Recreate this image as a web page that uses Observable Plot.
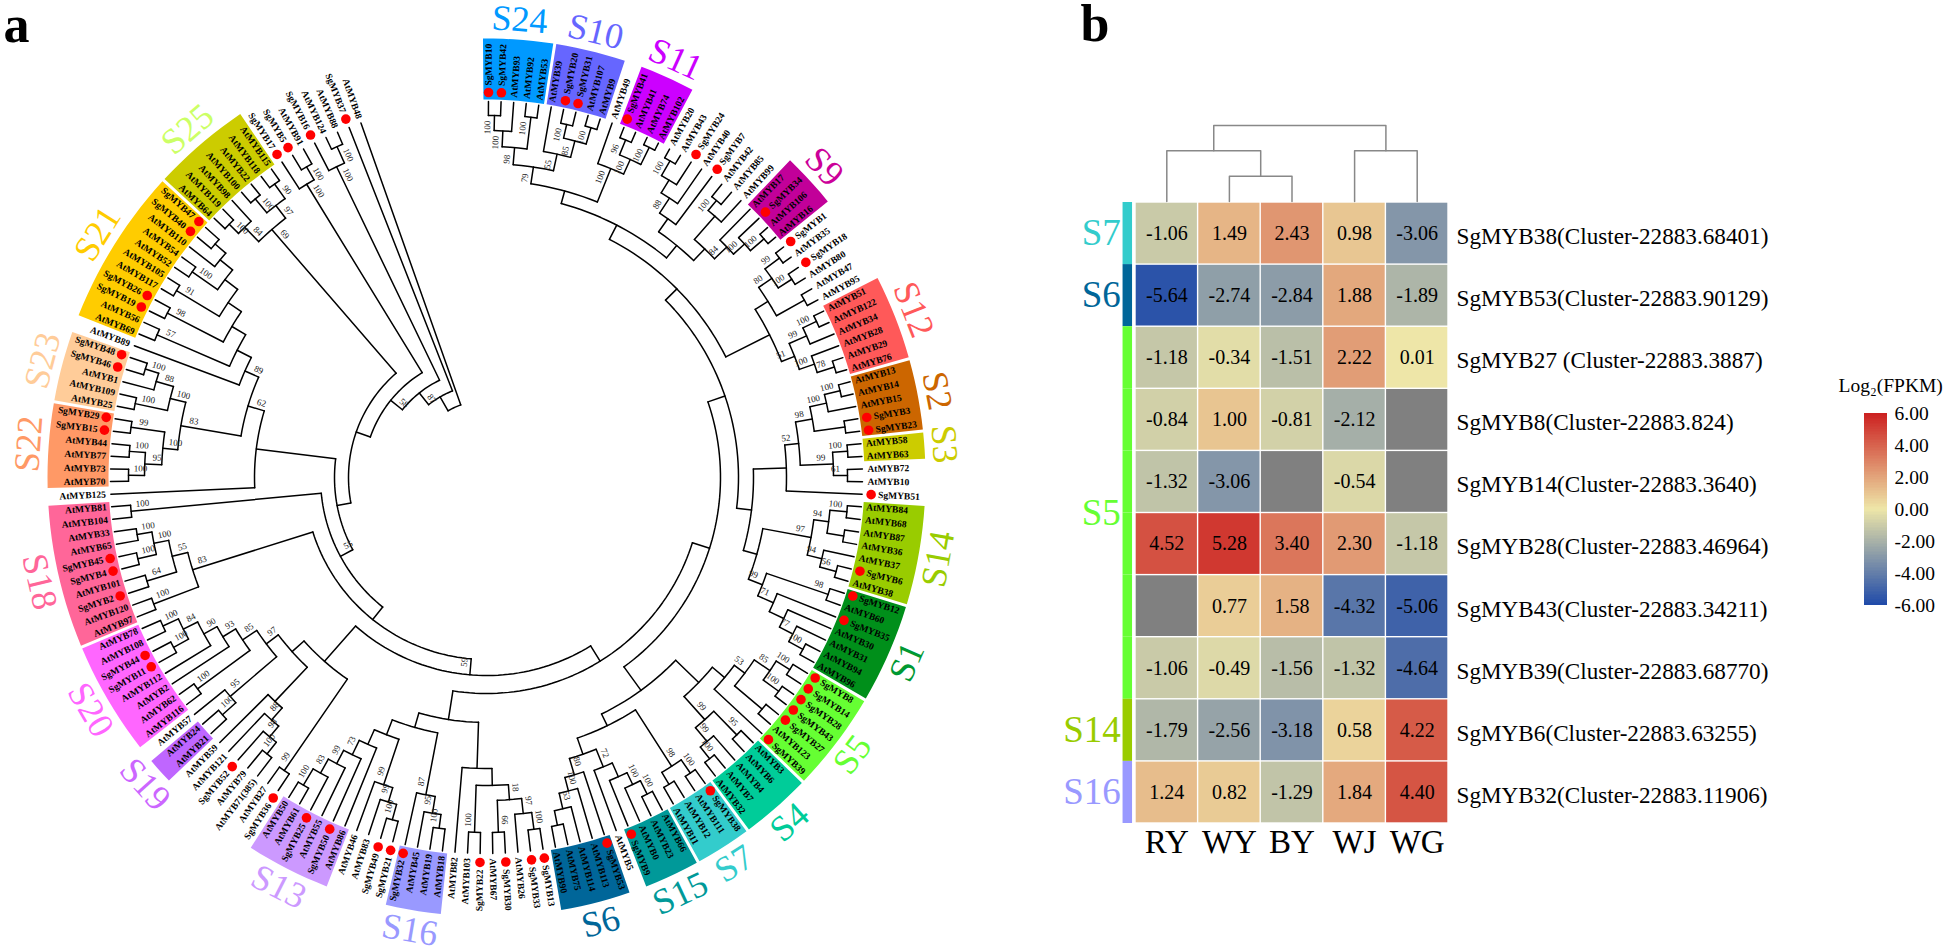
<!DOCTYPE html>
<html><head><meta charset="utf-8">
<script src="https://cdn.jsdelivr.net/npm/d3@7"></script>
<script src="https://cdn.jsdelivr.net/npm/@observablehq/plot@0.6"></script>
<style>
html,body{margin:0;padding:0;background:#fff;overflow:hidden}
#page{position:relative;width:1946px;height:947px}
#page svg{position:absolute;left:0;top:0;max-width:none}
</style></head><body><div id="page"></div>
<script>
// ---- tree: [node radius, bootstrap, ...children]; tips are names, in clockwise order
const cladeS24S10 = [314,79,[331,98,[347,100,[362,100,"SgMYB10","SgMYB42"],"AtMYB93"],[363,100,"AtMYB92","AtMYB53"]],[331,55,"AtMYB39",[348,85,[362,100,"SgMYB20","SgMYB31"],[365,100,"AtMYB107","AtMYB9"]]]];
const cladeS11 = [333,100,"AtMYB49",[349,100,[365,96,"SgMYB41","AtMYB41"],[368,100,"AtMYB74","AtMYB102"]]];
const cladeS9 = [300,null,[316,null,[334,88,[349,null,[366,100,"AtMYB20","AtMYB43"],"SgMYB24"],"AtMYB40"],"SgMYB7"],[316,null,[347,null,[360,100,"AtMYB42","AtMYB85"],"AtMYB99"],[333,84,"AtMYB17",[348,100,"SgMYB34",[366,100,"AtMYB106","AtMYB16"]]]]];
const cladeS12 = [317,null,[332,null,[348,80,[366,99,"SgMYB1","AtMYB35"],[364,100,"SgMYB18","AtMYB80"]],[364,null,"AtMYB47","AtMYB95"]],[331,51,[350,99,[365,100,"AtMYB51","AtMYB122"],"AtMYB34"],[347,100,"AtMYB28",[365,78,"AtMYB29","AtMYB76"]]]];
const cladeS2S3 = [300,null,[314,52,[331,98,[348,100,[364,100,"AtMYB13","AtMYB14"],"AtMYB15"],[362,null,"SgMYB3","SgMYB23"]],[347,99,[362,100,"AtMYB58","AtMYB63"],[361,61,"AtMYB72","AtMYB10"]]],"SgMYB51"];
const cladeS14S1 = [281,null,[330,97,[345,94,[362,100,"AtMYB84","AtMYB68"],[362,null,"AtMYB87","AtMYB36"]],[345,94,"AtMYB37",[362,56,"SgMYB6","AtMYB38"]]],[296,99,[361,98,"SgMYB12","AtMYB60"],[313,71,"SgMYB35",[329,null,"AtMYB30",[344,77,"AtMYB31",[360,100,"AtMYB94","AtMYB96"]]]]]];
const cladeS5S4 = [295,null,[311,null,[324,53,[343,85,[359,100,"SgMYB8","SgMYB14"],[362,100,"SgMYB28","SgMYB43"]],[360,null,"SgMYB27","AtMYB123"]],"SgMYB39"],[326,99,[359,95,"AtMYB3","AtMYB6"],[344,99,"AtMYB4",[359,100,"AtMYB7","AtMYB32"]]]];
const cladeS7S6 = [276,null,[343,98,[359,100,"SgMYB38","AtMYB111"],[357,null,"AtMYB12","AtMYB11"]],[293,null,[312,72,[327,null,[340,100,[355,100,"AtMYB66","AtMYB23"],"AtMYB0"],"SgMYB9"],"AtMYB5"],[310,80,"SgMYB53",[324,100,"AtMYB113",[340,53,"AtMYB114",[355,null,"AtMYB75","AtMYB90"]]]]]];
const cladeS16 = [260,null,[323,87,[340,95,[354,100,"AtMYB18","AtMYB19"],"AtMYB45"],"SgMYB32"],[276,null,[324,99,[339,99,[355,100,"SgMYB21","SgMYB49"],"AtMYB83"],"AtMYB46"],[292,null,"AtMYB86",[308,73,"SgMYB50",[323,99,"AtMYB55",[339,83,"SgMYB25",[358,100,"AtMYB61","AtMYB50"]]]]]]];
const cladeLow = [291,null,[308,null,[323,18,[338,97,[355,100,"SgMYB13","SgMYB33"],"AtMYB26"],[355,66,"SgMYB30","AtMYB67"]],[355,100,"SgMYB22","AtMYB103"]],"AtMYB82"];
const cladeS19S20 = [276,97,[337,95,[355,100,"AtMYB21","AtMYB24"],"AtMYB57"],[293,85,[358,100,"AtMYB116","AtMYB62"],[308,93,"AtMYB2",[323,90,"AtMYB112",[339,84,[356,100,"SgMYB11","SgMYB44"],[356,100,"AtMYB108","AtMYB78"]]]]]];
const cladeS13b = [245,null,[356,99,"SgMYB36","AtMYB27"],[261,null,[308,null,[324,88,[338,98,[353,100,"AtMYB71(385)","AtMYB79"],"SgMYB52"],"AtMYB121"],"AtMYB59"],cladeS19S20]];
const cladeS18 = [308,83,[356,100,"AtMYB97","AtMYB120"],[324,55,[355,64,"SgMYB2","AtMYB101"],[339,100,[358,100,"SgMYB4","SgMYB45"],[354,100,"AtMYB65","AtMYB33"]]]];
const cladeS22S23 = [310,83,[325,100,[342,95,[358,100,"AtMYB70","AtMYB73"],[358,100,"AtMYB77","AtMYB44"]],[359,99,"SgMYB15","SgMYB29"]],[326,100,[359,100,"AtMYB25","AtMYB109"],[344,88,"AtMYB1",[358,100,"SgMYB46","SgMYB48"]]]];
const cladeS21 = [280,null,[359,57,"AtMYB69","AtMYB56"],[296,null,[359,98,"SgMYB19","SgMYB26"],[312,null,[362,91,"AtMYB117","AtMYB105"],[328,null,[359,100,"AtMYB52","AtMYB54"],[344,null,"AtMYB110",[358,null,"SgMYB40","SgMYB47"]]]]]];
const cladeS25 = [328,69,[348,84,[361,100,"AtMYB64","AtMYB119"],"AtMYB98"],[344,97,[362,100,"AtMYB100","AtMYB22"],[362,90,"AtMYB118","AtMYB115"]]];
const cladeEnd = [344,100,"SgMYB17",[359,100,"SgMYB5","AtMYB91"]];
const cladeEnd2 = [345,100,"SgMYB16",[363,100,"AtMYB124","AtMYB88"]];

const treeRoot =
 [77,null,[93,null,[108,87,[123,58,[138,null,[152,null,[166,55,[182,null,[198,59,[216,null,
   [234,null,[252,null,[268,null,[284,null,[297,null,cladeS24S10,cladeS11],cladeS9],cladeS12],[267,null,cladeS2S3,cladeS14S1]],[263,null,cladeS5S4,cladeS7S6]],
   [245,null,cladeLow,cladeS16]],cladeS13b],cladeS18],[357,100,"AtMYB104","AtMYB81"]],
   [232,null,"AtMYB125",[249,62,cladeS22S23,[264,89,"AtMYB89",cladeS21]]]],cladeS25],cladeEnd],cladeEnd2],"SgMYB37"],"AtMYB48"];

const groupNames  = ["S24","S10","S11","S9","S12","S2","S3","S14","S1","S5","S4","S7","S15","S6","S16","S13","S19","S20","S18","S22","S23","S21","S25"];
const groupFirst  = ["SgMYB10","AtMYB39","SgMYB41","AtMYB17","AtMYB51","AtMYB13","AtMYB58","AtMYB84","SgMYB12","SgMYB8","AtMYB3","SgMYB38","AtMYB66","SgMYB53","AtMYB18","AtMYB86","AtMYB21","AtMYB116","AtMYB97","AtMYB70","AtMYB25","AtMYB69","AtMYB64"];
const groupLast   = ["AtMYB53","AtMYB9","AtMYB102","AtMYB16","AtMYB76","SgMYB23","AtMYB63","AtMYB38","AtMYB96","SgMYB39","AtMYB32","AtMYB11","SgMYB9","AtMYB90","SgMYB32","AtMYB50","AtMYB24","AtMYB78","AtMYB81","SgMYB29","SgMYB48","SgMYB47","AtMYB115"];
const groupFill   = ["#0099ff","#6666ff","#cc00ff","#c20099","#ff5959","#cc6600","#cccc00","#99cc00","#008f1a","#66ff33","#00cc99","#33cccc","#009999","#006699","#9999ff","#cc99ff","#bf66ff","#ff66ff","#ff6699","#ff9966","#ffcc99","#ffcc00","#cccc00"];
const groupInk    = ["#0099ff","#6666ff","#cc00ff","#cc0099","#ff5959","#cc6600","#cccc00","#99cc00","#009933","#66ff33","#00cc99","#33cccc","#009999","#006699","#9999ff","#cc99ff","#cc66ff","#ff66ff","#ff6699","#ff9966","#ffcc99","#ffcc00","#ccff66"];

// ---- heat map
const samples = ["RY","WY","BY","WJ","WG"];
const genes = ["SgMYB38(Cluster-22883.68401)","SgMYB53(Cluster-22883.90129)","SgMYB27 (Cluster-22883.3887)","SgMYB8(Cluster-22883.824)","SgMYB14(Cluster-22883.3640)","SgMYB28(Cluster-22883.46964)","SgMYB43(Cluster-22883.34211)","SgMYB39(Cluster-22883.68770)","SgMYB6(Cluster-22883.63255)","SgMYB32(Cluster-22883.11906)"];
const expression = [
 [-1.06,1.49,2.43,0.98,-3.06],
 [-5.64,-2.74,-2.84,1.88,-1.89],
 [-1.18,-0.34,-1.51,2.22,0.01],
 [-0.84,1.00,-0.81,-2.12,null],
 [-1.32,-3.06,null,-0.54,null],
 [4.52,5.28,3.40,2.30,-1.18],
 [null,0.77,1.58,-4.32,-5.06],
 [-1.06,-0.49,-1.56,-1.32,-4.64],
 [-1.79,-2.56,-3.18,0.58,4.22],
 [1.24,0.82,-1.29,1.84,4.40]];
const rowClass = ["S7","S6","S5","S5","S5","S5","S5","S5","S14","S16"];
const classInk = {S7:"#33cccc",S6:"#006699",S5:"#66ff33",S14:"#99cc00",S16:"#9999ff"};
const dendrogram = [3,null,[2,null,"RY",[1,null,"WY","BY"]],[2,null,"WJ","WG"]];
const legendTicks = [-6,-4,-2,0,2,4,6];

const serif = "'Liberation Serif','Times New Roman',serif";
const clear = {background:"transparent",fontFamily:serif};
const colorScale = {type:"linear",domain:[-6,0,6],range:["#1f4aa9","#eee6a8","#cc2020"]};

// ---- layout of the circular tree
const a0 = 0.3, step = 1.922, tipR = 376, blockIn = 378, blockOut = 439, labelR = 459;
const rad = d => d*Math.PI/180;
const px = (r,a) => r*Math.sin(rad(a));
const py = (r,a) => -r*Math.cos(rad(a));
const tips = [], branchPts = [], bootLabels = [];
let branchId = 0;
function addArc(r,a1,a2){ const id=branchId++; const n=Math.max(1,Math.ceil((a2-a1)/1.5));
  for(let i=0;i<=n;i++){const a=a1+(a2-a1)*i/n; branchPts.push({id,x:px(r,a),y:py(r,a)});} }
function addStem(r1,r2,a){ const id=branchId++; branchPts.push({id,x:px(r1,a),y:py(r1,a)},{id,x:px(r2,a),y:py(r2,a)}); }
function walk(n,parentR){
  if(typeof n==="string"){ const a=a0+step*tips.length; tips.push({name:n,a}); addStem(parentR,tipR,a); return a; }
  const [r,boot,...kids]=n;
  const as=kids.map(k=>walk(k,r));
  const lo=as[0],hi=as[as.length-1],mid=(lo+hi)/2;
  addArc(r,lo,hi);
  if(parentR!=null) addStem(parentR,r,mid);
  if(boot!=null) bootLabels.push({boot,r,a:mid});
  return mid;
}
walk(treeRoot,null);
const tipAngle = Object.fromEntries(tips.map(t=>[t.name,t.a]));
const isSg = t => t.name.startsWith("Sg");

const blockPts = [], groupLabels = [];
groupNames.forEach((name,i)=>{
  const a1=tipAngle[groupFirst[i]]-step/2+0.2, a2=tipAngle[groupLast[i]]+step/2-0.2;
  const n=Math.ceil((a2-a1)/1.5), c=groupFill[i];
  for(let k=0;k<=n;k++){const a=a1+(a2-a1)*k/n; blockPts.push({name,c,x:px(blockIn,a),y:py(blockIn,a)});}
  for(let k=n;k>=0;k--){const a=a1+(a2-a1)*k/n; blockPts.push({name,c,x:px(blockOut,a),y:py(blockOut,a)});}
  const am=(a1+a2)/2;
  groupLabels.push({name,ink:groupInk[i],x:px(labelR,am),y:py(labelR,am),rot:am<90?am:am<270?am-180:am-360});
});

const rightTips = tips.filter(t=>t.a<180), leftTips = tips.filter(t=>t.a>=180);
const textR = t => isSg(t)?392:381;
// bootstrap text sits beside the stem, towards the centre
const bootX = b => { const side=b.a<180?-1:1; return px(b.r-12,b.a+side*(7/b.r)*180/Math.PI); };
const bootY = b => { const side=b.a<180?-1:1; return py(b.r-12,b.a+side*(7/b.r)*180/Math.PI); };

const treePlot = Plot.plot({
  width:1946,height:947,margin:0,style:clear,
  x:{domain:[-486,1460],range:[0,1946],axis:null},
  y:{domain:[-477,470],range:[0,947],axis:null},
  marks:[
    Plot.line(blockPts,{x:"x",y:"y",z:"name",fill:d=>d.c,stroke:"none"}),
    Plot.line(branchPts,{x:"x",y:"y",z:"id",stroke:"#000",strokeWidth:1.5,strokeLinecap:"round",strokeLinejoin:"round"}),
    Plot.text(rightTips,{x:t=>px(textR(t),t.a),y:t=>py(textR(t),t.a),text:"name",rotate:t=>t.a-90,textAnchor:"start",fontSize:9.5,fontWeight:"bold",fill:"#000"}),
    Plot.text(leftTips,{x:t=>px(textR(t),t.a),y:t=>py(textR(t),t.a),text:"name",rotate:t=>t.a-270,textAnchor:"end",fontSize:9.5,fontWeight:"bold",fill:"#000"}),
    Plot.dot(tips.filter(isSg),{x:t=>px(385,t.a),y:t=>py(385,t.a),r:4.8,fill:"#ff0000",stroke:"none"}),
    Plot.text(bootLabels,{x:bootX,y:bootY,text:"boot",rotate:b=>b.a<180?b.a-90:b.a-270,fontSize:9,fill:"#222"}),
    Plot.text(groupLabels,{x:"x",y:"y",text:"name",rotate:"rot",fontSize:36,fill:d=>d.ink}),
    Plot.text(["a"],{frameAnchor:"top-left",dx:3,dy:5,fontSize:52,fontWeight:"bold",fill:"#000",lineAnchor:"top"})
  ]
});

// ---- heat map plot
const cells = genes.flatMap((g,i)=>samples.map((s,j)=>({gene:g,sample:s,v:expression[i][j]})));
const rowsInfo = genes.map((g,i)=>({gene:g,cls:rowClass[i],ink:classInk[rowClass[i]]}));
const classRows = rowsInfo.filter((r,i)=>rowClass.indexOf(r.cls)===i && r.cls!=="S5");
const s5Row = rowsInfo[4];
const heatPlot = Plot.plot({
  width:1946,height:947,
  marginLeft:1135,marginRight:498,marginTop:202,marginBottom:124,style:clear,
  x:{domain:samples,padding:0,round:false,label:null},
  y:{domain:genes,padding:0,round:false,label:null},
  color:colorScale,
  marks:[
    Plot.cell(cells.filter(d=>d.v==null),{x:"sample",y:"gene",fill:"#808080",inset:0.7}),
    Plot.cell(cells.filter(d=>d.v!=null),{x:"sample",y:"gene",fill:"v",inset:0.7}),
    Plot.text(cells.filter(d=>d.v!=null),{x:"sample",y:"gene",text:d=>d.v.toFixed(2),fontSize:20,fill:"#000"}),
    Plot.tickX(rowsInfo,{x:()=>"RY",y:"gene",stroke:d=>d.ink,strokeWidth:9.5,dx:-39.5,strokeLinecap:"butt"}),
    Plot.text(classRows,{x:()=>"RY",y:"gene",text:"cls",fill:d=>d.ink,fontSize:37,textAnchor:"end",dx:-46}),
    Plot.text([s5Row],{x:()=>"RY",y:"gene",text:"cls",fill:d=>d.ink,fontSize:37,textAnchor:"end",dx:-46,dy:31}),
    Plot.axisX({anchor:"bottom",tickSize:0,tickPadding:6,fontSize:33,label:null,fill:"#000"}),
    Plot.axisY({anchor:"right",tickSize:0,tickPadding:8,fontSize:23.2,label:null,fill:"#000",dy:3}),
    Plot.text(["b"],{frameAnchor:"top-left",dx:-55,dy:-198,fontSize:52,fontWeight:"bold",fill:"#000",lineAnchor:"top"})
  ]
});

// ---- dendrogram over the columns
const dendroPts = []; let dId = 0;
function dwalk(n){
  if(typeof n==="string") return {x:samples.indexOf(n)+0.5,h:0};
  const [h,,a,b]=n; const A=dwalk(a),B=dwalk(b); const id=dId++;
  dendroPts.push({id,x:A.x,h:A.h},{id,x:A.x,h},{id,x:B.x,h},{id,x:B.x,h:B.h});
  return {x:(A.x+B.x)/2,h};
}
dwalk(dendrogram);
const dendroPlot = Plot.plot({
  width:1946,height:947,margin:0,style:clear,
  x:{domain:[0,5],range:[1135,1448],axis:null},
  y:{domain:[0,3],range:[201,125],axis:null},
  marks:[Plot.line(dendroPts,{x:"x",y:"h",z:"id",stroke:"#888",strokeWidth:1.5})]
});

// ---- colour legend
const ramp = d3.range(-6,6,0.1);
const legendPlot = Plot.plot({
  width:1946,height:947,margin:0,style:clear,
  x:{domain:[0,1],range:[1864,1887],axis:null},
  y:{domain:[-6,6],range:[605,413],axis:null},
  color:colorScale,
  marks:[
    Plot.rect(ramp,{x1:()=>0,x2:()=>1,y1:d=>d,y2:d=>d+0.1,fill:d=>d+0.05,shapeRendering:"crispEdges"}),
    Plot.text(legendTicks,{x:()=>1,y:d=>d,text:d=>d.toFixed(2),textAnchor:"start",dx:7,fontSize:19.5,fill:"#000"}),
    Plot.text(["Log₂(FPKM)"],{frameAnchor:"top-left",dx:1838,dy:378,fontSize:19.5,fill:"#000",lineAnchor:"top"})
  ]
});

const page=document.getElementById("page");
[treePlot,heatPlot,dendroPlot,legendPlot].forEach(p=>page.appendChild(p));
</script></body></html>
